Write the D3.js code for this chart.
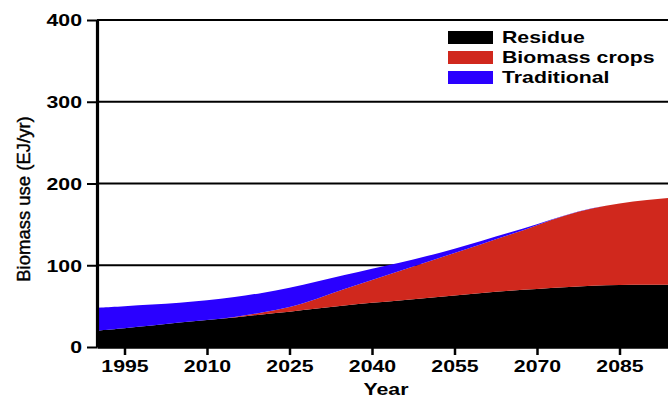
<!DOCTYPE html>
<html><head><meta charset="utf-8">
<script src="https://cdn.jsdelivr.net/npm/d3@7"></script>
<style>body{margin:0;background:#fff}svg{display:block}</style>
</head><body>
<script>
const years = [1990,1995,2000,2005,2010,2015,2020,2025,2030,2035,2040,2045,2050,2055,2060,2065,2070,2075,2080,2085,2090,2095,2100];
const residue = [20,23,26,30,33,36,40,43,47,51,54,57,60,63,66,69,71,73,75,76,76,76,76];
const biomassCrops = [0,0,0,0,0,0.5,2,5,12,20,28,36,44,52,60,68,78,88,95,100,104,107,109];
const traditional = [28,27,26,24,24,24.5,24,24,21,17,14,10,7,5,4,3,1,0.5,0,0,0,0,0];
const seriesNames = ["Residue","Biomass crops","Traditional"];
const seriesColors = ["#000000","#d0281d","#2a00ff"];
const xTicks = [1995,2010,2025,2040,2055,2070,2085];
const yTicks = [0,100,200,300,400];

const W = 668, H = 400;
const SX = 1.33; // horizontal stretch of the text
const svg = d3.select("body").append("svg").attr("width", W).attr("height", H)
  .style("font-family","'Liberation Sans', Arial, sans-serif");

const x = d3.scaleLinear().domain([1990, 2100]).range([97, 702]);
const y = d3.scaleLinear().domain([0, 400]).range([347, 20]);

const rows = years.map((yr, i) => ({year: yr, "Residue": residue[i], "Biomass crops": biomassCrops[i], "Traditional": traditional[i]}));
const stack = d3.stack().keys(seriesNames)(rows);

// gridlines
svg.append("g").selectAll("line").data(yTicks.filter(d => d > 0)).join("line")
  .attr("x1", x(1990)).attr("x2", W).attr("y1", d => y(d)).attr("y2", d => y(d))
  .attr("stroke", "#000").attr("stroke-width", 2);

// areas
const area = d3.area().curve(d3.curveBasis)
  .x(d => x(d.data.year)).y0(d => y(d[0])).y1(d => y(d[1]));
svg.append("g").selectAll("path").data(stack).join("path")
  .attr("d", area).attr("fill", (d, i) => seriesColors[i]);

// x axis
const xa = svg.append("g").attr("transform", `translate(0,${y(0)})`)
  .call(d3.axisBottom(x).tickValues(xTicks).tickFormat(d3.format("d")).tickSize(8).tickSizeOuter(0));
xa.select(".domain").attr("stroke", "#000").attr("stroke-width", 2.5);
xa.selectAll(".tick line").attr("stroke", "#000").attr("stroke-width", 2.5);
xa.selectAll(".tick text").attr("fill", "#000").attr("font-size", 16).attr("font-weight", "bold")
  .attr("font-family", "'Liberation Sans', Arial, sans-serif")
  .attr("y", 25).attr("dy", 0).attr("transform", `scale(${SX},1)`);

// y axis
const ya = svg.append("g").attr("transform", `translate(${x(1990)},0)`)
  .call(d3.axisLeft(y).tickValues(yTicks).tickSize(10).tickSizeOuter(0));
ya.select(".domain").attr("stroke", "#000").attr("stroke-width", 3.2);
ya.selectAll(".tick line").attr("stroke", "#000").attr("stroke-width", 2);
ya.selectAll(".tick text").attr("fill", "#000").attr("font-size", 16).attr("font-weight", "bold")
  .attr("font-family", "'Liberation Sans', Arial, sans-serif")
  .attr("x", -15 / SX).attr("dy", "0.36em").attr("transform", `scale(${SX},1)`);

// axis titles
svg.append("text").attr("transform", `translate(386,${H - 5}) scale(${SX},1)`)
  .attr("text-anchor", "middle").attr("font-size", 16).attr("font-weight", "bold").text("Year");
svg.append("text").attr("transform", `translate(30,199) rotate(-90)`)
  .attr("text-anchor", "middle").attr("font-size", 18.5)
  .attr("stroke", "#000").attr("stroke-width", 0.4).text("Biomass use (EJ/yr)");

// legend
const lg = svg.append("g");
seriesNames.forEach((name, i) => {
  const yy = 31 + i * 20;
  lg.append("rect").attr("x", 448).attr("y", yy).attr("width", 45).attr("height", 13).attr("fill", seriesColors[i]);
  lg.append("text").attr("transform", `translate(502,${yy + 12}) scale(${SX},1)`)
    .attr("font-size", 16).attr("font-weight", "bold").text(name);
});
</script>
</body></html>
